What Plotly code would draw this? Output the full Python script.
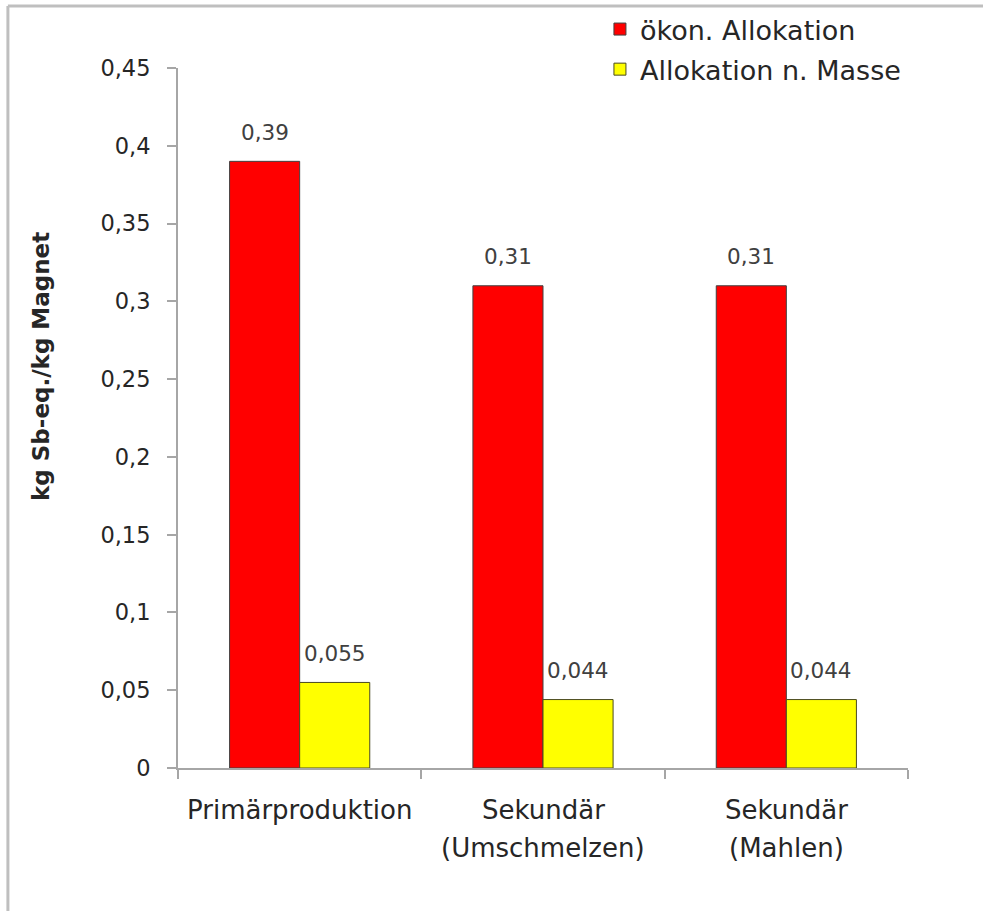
import plotly.graph_objects as go

# Kategorien (Zeilen der Achsenbeschriftung) und Werte (kg Sb-eq. je kg Magnet)
category_lines = [
    ["Primärproduktion"],
    ["Sekundär", "(Umschmelzen)"],
    ["Sekundär", "(Mahlen)"],
]
categories = [" ".join(lines) for lines in category_lines]
oekon_allokation = [0.39, 0.31, 0.31]
masse_allokation = [0.055, 0.044, 0.044]
y_tick_values = [0, 0.05, 0.1, 0.15, 0.2, 0.25, 0.3, 0.35, 0.4, 0.45]
y_tick_labels = ["0", "0,05", "0,1", "0,15", "0,2", "0,25", "0,3", "0,35", "0,4", "0,45"]

FONT = "DejaVu Sans"
TEXT_COLOR = "#262626"
AXIS_COLOR = "#a6a6a6"
BAR_HALF = 35      # halbe Balkenbreite in Pixeln, für die Wertebeschriftung
LINE_STEP = 38     # Zeilenabstand der Kategoriebeschriftung in Pixeln


def de_label(v):
    return f"{v:g}".replace(".", ",")


fig = go.Figure()
fig.add_trace(go.Bar(
    name="ökon. Allokation",
    legendgroup="oekon",
    x=categories,
    y=oekon_allokation,
    marker=dict(color="#ff0000", line=dict(color="#404040", width=1)),
))
fig.add_trace(go.Bar(
    name="Allokation n. Masse",
    legendgroup="masse",
    x=categories,
    y=masse_allokation,
    marker=dict(color="#ffff00", line=dict(color="#4a4a20", width=1)),
))

annotations = []

# Wertebeschriftungen über den Balken
for values, shift in ((oekon_allokation, -BAR_HALF), (masse_allokation, BAR_HALF)):
    for cat, v in zip(categories, values):
        annotations.append(dict(
            x=cat, y=v, xref="x", yref="y",
            text=de_label(v), showarrow=False,
            xanchor="center", yanchor="middle",
            xshift=shift, yshift=29,
            font=dict(family=FONT, size=21.5, color="#404040"),
        ))

# Kategoriebeschriftung unter der x-Achse
for cat, lines in zip(categories, category_lines):
    for i, line in enumerate(lines):
        annotations.append(dict(
            x=cat, y=0, xref="x", yref="y",
            text=line, showarrow=False,
            xanchor="center", yanchor="middle",
            yshift=-42 - i * LINE_STEP,
            font=dict(family=FONT, size=26, color=TEXT_COLOR),
        ))

# Titel der y-Achse
annotations.append(dict(
    text="<b>kg Sb-eq./kg Magnet</b>",
    textangle=-90,
    xref="paper", yref="paper",
    x=-0.188, y=0.574,
    xanchor="center", yanchor="middle",
    showarrow=False,
    font=dict(family=FONT, size=23, color=TEXT_COLOR),
))

fig.update_layout(
    width=983,
    height=911,
    margin=dict(l=178, r=75, t=68, b=143, autoexpand=False),
    paper_bgcolor="white",
    plot_bgcolor="white",
    barmode="group",
    bargap=0.424,
    bargroupgap=0,
    separators=",.",
    font=dict(family=FONT, color=TEXT_COLOR),
    showlegend=True,
    legend=dict(
        x=0.578, y=1.09, xanchor="left", yanchor="top",
        font=dict(family=FONT, size=27, color=TEXT_COLOR),
        bgcolor="rgba(0,0,0,0)",
        itemwidth=30,
        traceorder="grouped",
        tracegroupgap=2,
    ),
    xaxis=dict(
        showline=True, linecolor=AXIS_COLOR, linewidth=2,
        ticks="outside", ticklen=9, tickwidth=2, tickcolor=AXIS_COLOR,
        tickson="boundaries",
        showticklabels=False,
        showgrid=False, zeroline=False,
    ),
    yaxis=dict(
        range=[0, 0.45],
        tickvals=y_tick_values,
        ticktext=y_tick_labels,
        showline=True, linecolor=AXIS_COLOR, linewidth=2,
        ticks="outside", ticklen=9, tickwidth=2, tickcolor=AXIS_COLOR,
        tickfont=dict(family=FONT, size=22.5, color=TEXT_COLOR),
        ticklabelstandoff=12,
        showgrid=False, zeroline=False,
    ),
    annotations=annotations,
    shapes=[
        # Rahmen oben und links
        dict(type="line", xref="paper", yref="paper",
             x0=-0.233, x1=1.11, y0=1.0886, y1=1.0886,
             line=dict(color="#bfbfbf", width=3)),
        dict(type="line", xref="paper", yref="paper",
             x0=-0.233, x1=-0.233, y0=1.0886, y1=-0.21,
             line=dict(color="#bfbfbf", width=3)),
    ],
)

fig.write_html("out.html")
